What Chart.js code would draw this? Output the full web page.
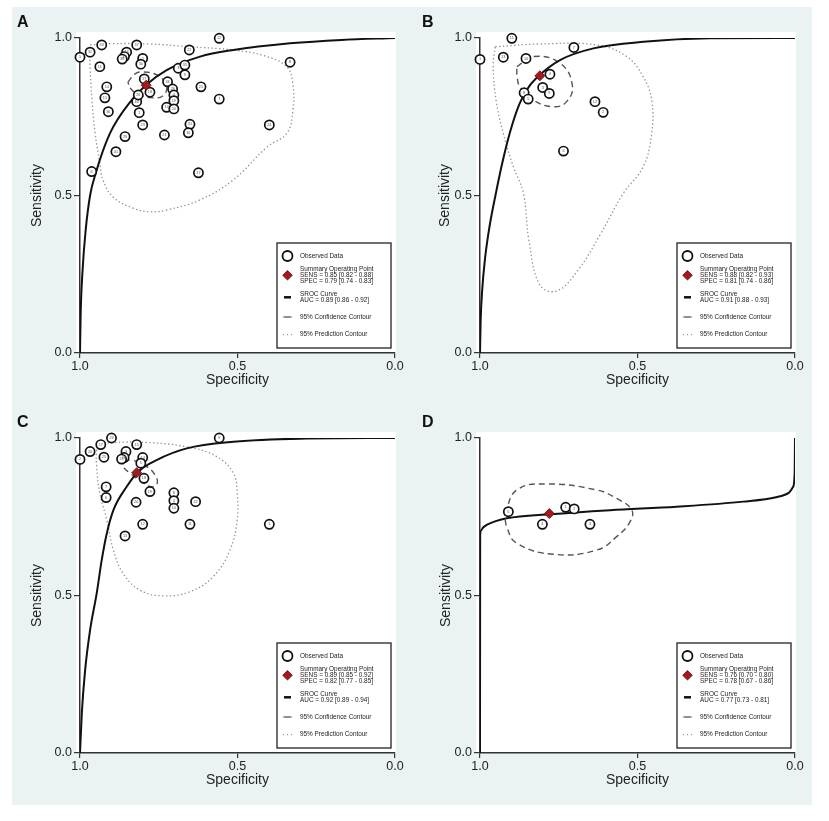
<!DOCTYPE html>
<html>
<head>
<meta charset="utf-8">
<title>SROC curves</title>
<script src="https://cdn.jsdelivr.net/npm/chart.js@4.4.1/dist/chart.umd.min.js"></script>
<style>
  body { margin: 0; background: #fff; }
  #figure { position: absolute; left: 12px; top: 7px; width: 800px; height: 798px; background: #eaf2f3; }
  #figure canvas { position: absolute; }
</style>
</head>
<body>
<div id="figure">
  <canvas id="panelA" width="398" height="398" style="left:0;top:0"></canvas>
  <canvas id="panelB" width="398" height="398" style="left:400px;top:0"></canvas>
  <canvas id="panelC" width="398" height="398" style="left:0;top:400px"></canvas>
  <canvas id="panelD" width="398" height="398" style="left:400px;top:400px"></canvas>
</div>
<script>
const FONT = "'Liberation Sans', Arial, Helvetica, sans-serif";

const tickValues = [0, 0.5, 1];
const tickLabels = ['0.0', '0.5', '1.0'];

// observed studies (specificity, sensitivity, study id)
const specA = [1.0, 0.968, 0.931, 0.937, 0.852, 0.859, 0.866, 0.82, 0.801, 0.807, 0.653, 0.558, 0.333, 0.688, 0.667, 0.667, 0.796, 0.778, 0.915, 0.921, 0.91, 0.82, 0.815, 0.812, 0.801, 0.857, 0.886, 0.963, 0.722, 0.706, 0.702, 0.702, 0.725, 0.702, 0.616, 0.558, 0.651, 0.656, 0.732, 0.399, 0.624];
const sensA = [0.939, 0.955, 0.978, 0.909, 0.955, 0.941, 0.933, 0.978, 0.935, 0.917, 0.962, 0.999, 0.923, 0.904, 0.914, 0.883, 0.87, 0.828, 0.845, 0.81, 0.766, 0.798, 0.819, 0.763, 0.724, 0.687, 0.639, 0.576, 0.861, 0.838, 0.819, 0.801, 0.78, 0.775, 0.845, 0.806, 0.726, 0.699, 0.692, 0.724, 0.572];
const idsA = ['5', '32', '33', '11', '13', '39', '38', '37', '2', '30', '22', '12', '8', '3', '35', '9', '27', '18', '14', '15', '36', '40', '26', '1', '23', '29', '41', '6', '34', '28', '4', '19', '10', '20', '25', '7', '31', '16', '21', '24', '17'];

const specB = [1.0, 0.926, 0.899, 0.854, 0.702, 0.778, 0.801, 0.78, 0.86, 0.847, 0.635, 0.609, 0.735];
const sensB = [0.932, 0.939, 0.999, 0.935, 0.970, 0.885, 0.843, 0.824, 0.826, 0.806, 0.798, 0.764, 0.641];
const idsB = ['1', '13', '11', '10', '7', '4', '3', '9', '8', '5', '12', '2', '6'];

const specC = [1.0, 0.968, 0.934, 0.9, 0.924, 0.854, 0.86, 0.868, 0.82, 0.801, 0.807, 0.558, 0.797, 0.778, 0.917, 0.917, 0.822, 0.702, 0.702, 0.702, 0.633, 0.801, 0.651, 0.399, 0.857];
const sensC = [0.932, 0.957, 0.979, 1.0, 0.939, 0.957, 0.938, 0.933, 0.979, 0.938, 0.92, 1.0, 0.872, 0.83, 0.845, 0.811, 0.796, 0.826, 0.801, 0.777, 0.798, 0.726, 0.726, 0.726, 0.689];
const idsC = ['2', '20', '17', '23', '25', '3', '16', '21', '15', '14', '5', '9', '18', '19', '7', '6', '24', '8', '4', '10', '22', '12', '11', '1', '13'];

const specD = [0.728, 0.701, 0.651, 0.802, 0.910];
const sensD = [0.78, 0.775, 0.726, 0.726, 0.766];
const idsD = ['1', '2', '3', '4', '5'];

// summary operating points A..D
const summarySpec = [0.79, 0.81, 0.82, 0.78];
const summarySens = [0.85, 0.88, 0.89, 0.76];

// SROC curves
const srocSpecA = [1.0, 0.998, 0.992, 0.982, 0.968, 0.95, 0.905, 0.836, 0.79, 0.725, 0.619, 0.513, 0.333, 0.17, 0.0];
const srocSensA = [0.0, 0.12, 0.26, 0.39, 0.5, 0.571, 0.697, 0.803, 0.851, 0.898, 0.941, 0.962, 0.983, 0.994, 1.0];
const srocSpecB = [1.0, 0.998, 0.993, 0.984, 0.97, 0.951, 0.93, 0.905, 0.875, 0.845, 0.81, 0.746, 0.64, 0.481, 0.27, 0.0];
const srocSensB = [0.0, 0.1, 0.2, 0.3, 0.4, 0.5, 0.6, 0.7, 0.79, 0.845, 0.883, 0.93, 0.967, 0.988, 0.999, 1.0];
const srocSpecC = [1.0, 0.994, 0.984, 0.968, 0.947, 0.931, 0.915, 0.894, 0.852, 0.813, 0.757, 0.661, 0.513, 0.3, 0.0];
const srocSensC = [0.0, 0.13, 0.26, 0.39, 0.507, 0.613, 0.697, 0.771, 0.845, 0.895, 0.93, 0.967, 0.988, 0.998, 1.0];
const srocSpecD = [1.0, 0.9995, 0.997, 0.99, 0.979, 0.95, 0.915, 0.778, 0.587, 0.376, 0.164, 0.06, 0.02, 0.006, 0.001, 0.0];
const srocSensD = [0.0, 0.69, 0.706, 0.716, 0.724, 0.736, 0.745, 0.758, 0.771, 0.782, 0.798, 0.812, 0.826, 0.845, 0.89, 1.0];

// 95% confidence contours
const confSpecA = [0.848, 0.825, 0.8, 0.756, 0.73, 0.724, 0.737, 0.768, 0.81, 0.838, 0.848];
const confSensA = [0.86, 0.886, 0.892, 0.883, 0.86, 0.841, 0.816, 0.81, 0.819, 0.838, 0.86];
const confSpecB = [0.883, 0.832, 0.746, 0.707, 0.725, 0.767, 0.831, 0.873, 0.882, 0.883];
const confSensB = [0.909, 0.941, 0.920, 0.851, 0.798, 0.782, 0.803, 0.845, 0.877, 0.909];
const confSpecC = [0.860, 0.836, 0.788, 0.762, 0.755, 0.772, 0.804, 0.841, 0.864, 0.860];
const confSensC = [0.925, 0.930, 0.909, 0.883, 0.856, 0.845, 0.861, 0.888, 0.911, 0.925];
const confSpecD = [0.921, 0.883, 0.788, 0.63, 0.566, 0.518, 0.524, 0.566, 0.63, 0.767, 0.883, 0.915, 0.921];
const confSensD = [0.761, 0.835, 0.854, 0.835, 0.808, 0.771, 0.734, 0.687, 0.644, 0.631, 0.666, 0.718, 0.761];

// 95% prediction contours (none visible in D)
const predSpecA = [0.968, 0.9, 0.778, 0.65, 0.514, 0.413, 0.343, 0.324, 0.324, 0.343, 0.406, 0.514, 0.619, 0.724, 0.778, 0.832, 0.895, 0.927, 0.937, 0.952, 0.962, 0.968, 0.968];
const predSensA = [0.978, 0.982, 0.981, 0.972, 0.962, 0.943, 0.908, 0.851, 0.771, 0.698, 0.654, 0.549, 0.486, 0.454, 0.448, 0.46, 0.495, 0.549, 0.603, 0.698, 0.803, 0.908, 0.962];
const predSpecB = [0.952, 0.81, 0.63, 0.534, 0.482, 0.455, 0.455, 0.482, 0.545, 0.619, 0.689, 0.756, 0.81, 0.845, 0.862, 0.894, 0.926, 0.949, 0.958, 0.952];
const predSensB = [0.972, 0.981, 0.978, 0.941, 0.877, 0.803, 0.697, 0.591, 0.507, 0.375, 0.263, 0.197, 0.216, 0.36, 0.507, 0.591, 0.697, 0.803, 0.909, 0.972];
const predSpecC = [0.937, 0.82, 0.661, 0.566, 0.513, 0.501, 0.501, 0.524, 0.577, 0.651, 0.736, 0.81, 0.863, 0.894, 0.915, 0.937, 0.947, 0.947, 0.937];
const predSensC = [0.983, 0.987, 0.972, 0.941, 0.888, 0.824, 0.74, 0.644, 0.56, 0.512, 0.499, 0.517, 0.57, 0.644, 0.74, 0.824, 0.909, 0.962, 0.983];

const legendA = ['SENS = 0.85 [0.82 - 0.88]', 'SPEC = 0.79 [0.74 - 0.83]', 'AUC = 0.89 [0.86 - 0.92]'];
const legendB = ['SENS = 0.88 [0.82 - 0.93]', 'SPEC = 0.81 [0.74 - 0.86]', 'AUC = 0.91 [0.88 - 0.93]'];
const legendC = ['SENS = 0.89 [0.85 - 0.92]', 'SPEC = 0.82 [0.77 - 0.85]', 'AUC = 0.92 [0.89 - 0.94]'];
const legendD = ['SENS = 0.76 [0.70 - 0.80]', 'SPEC = 0.78 [0.67 - 0.86]', 'AUC = 0.77 [0.73 - 0.81]'];

Chart.defaults.font.family = FONT;

function pairs(xs, ys) {
    return xs.map((x, i) => ({ x: x, y: ys[i] }));
}

function drawDiamond(ctx, x, y, r) {
    ctx.beginPath();
    ctx.moveTo(x, y - r);
    ctx.lineTo(x + r, y);
    ctx.lineTo(x, y + r);
    ctx.lineTo(x - r, y);
    ctx.closePath();
    ctx.fillStyle = '#a3191d';
    ctx.fill();
    ctx.strokeStyle = '#5e0b0e';
    ctx.lineWidth = 0.8;
    ctx.stroke();
}

function drawLegend(ctx, area, lines) {
    const x = area.left + 197, y = area.top + 205, w = 114, h = 105;
    const sx = x + 10.5, tx = x + 23;
    ctx.save();
    ctx.fillStyle = '#fff';
    ctx.fillRect(x, y, w, h);
    ctx.strokeStyle = '#222';
    ctx.lineWidth = 1.3;
    ctx.strokeRect(x, y, w, h);

    ctx.beginPath();
    ctx.arc(sx, y + 13, 5, 0, Math.PI * 2);
    ctx.fillStyle = '#fff';
    ctx.fill();
    ctx.lineWidth = 1.8;
    ctx.strokeStyle = '#111';
    ctx.stroke();

    drawDiamond(ctx, sx, y + 32.3, 4.8);

    ctx.beginPath();
    ctx.moveTo(sx - 3.5, y + 54.3);
    ctx.lineTo(sx + 3.5, y + 54.3);
    ctx.lineWidth = 2.5;
    ctx.strokeStyle = '#111';
    ctx.stroke();

    ctx.beginPath();
    ctx.moveTo(sx - 4, y + 74);
    ctx.lineTo(sx + 4, y + 74);
    ctx.lineWidth = 1.3;
    ctx.strokeStyle = '#555';
    ctx.stroke();

    ctx.fillStyle = '#999';
    [-4, 0, 4].forEach(d => ctx.fillRect(sx + d - 0.6, y + 91, 1.2, 1.2));

    ctx.fillStyle = '#222';
    ctx.font = '6.4px ' + FONT;
    ctx.textBaseline = 'middle';
    ctx.textAlign = 'left';
    ctx.fillText('Observed Data', tx, y + 13);
    ctx.fillText('Summary Operating Point', tx, y + 26.4);
    ctx.fillText(lines[0], tx, y + 32.3);
    ctx.fillText(lines[1], tx, y + 38.2);
    ctx.fillText('SROC Curve', tx, y + 51.3);
    ctx.fillText(lines[2], tx, y + 57.3);
    ctx.fillText('95% Confidence Contour', tx, y + 74);
    ctx.fillText('95% Prediction Contour', tx, y + 91.5);
    ctx.restore();
}

const panelDecor = {
    id: 'panelDecor',
    beforeDraw(chart) {
        const { ctx, chartArea: a } = chart;
        ctx.save();
        ctx.fillStyle = '#fff';
        ctx.fillRect(a.left - 4, a.top - 6, a.right - a.left + 5, a.bottom - a.top + 6);
        ctx.restore();
    },
    afterDatasetsDraw(chart) {
        const ctx = chart.ctx;
        ctx.save();
        ctx.font = '3.8px ' + FONT;
        ctx.fillStyle = '#555';
        ctx.textAlign = 'center';
        ctx.textBaseline = 'middle';
        chart.data.datasets.forEach((ds, i) => {
            if (!ds.studyIds) return;
            chart.getDatasetMeta(i).data.forEach((pt, j) => {
                ctx.fillText(ds.studyIds[j], pt.x, pt.y);
            });
        });
        ctx.restore();
    },
    afterDraw(chart, args, opts) {
        const ctx = chart.ctx;
        ctx.save();
        ctx.font = 'bold 16px ' + FONT;
        ctx.fillStyle = '#111';
        ctx.textBaseline = 'middle';
        ctx.fillText(opts.letter, opts.letterX, 16);
        ctx.restore();
        drawLegend(ctx, chart.chartArea, opts.legend);
    }
};

function axis(title, isX, titlePad) {
    return {
        type: 'linear',
        min: 0,
        max: 1,
        reverse: isX,
        border: { display: true, color: '#333', width: 1.5 },
        grid: { drawOnChartArea: false, drawTicks: true, tickLength: isX ? 5 : 6, color: '#333', lineWidth: 1.2 },
        afterBuildTicks: scale => { scale.ticks = tickValues.map(v => ({ value: v })); },
        ticks: {
            callback: v => tickLabels[tickValues.indexOf(v)],
            font: { size: 12.5 },
            color: '#222',
            padding: isX ? 1 : 2,
            maxRotation: 0,
            autoSkip: false
        },
        title: {
            display: true,
            text: title,
            color: '#222',
            font: { size: 14 },
            padding: isX ? { top: 0, bottom: 16.6 } : { top: titlePad, bottom: 0 }
        },
        afterFit: scale => {
            if (isX) scale.height = 52; else scale.width = 68;
        }
    };
}

function makePanel(canvasId, p) {
    const datasets = [
        {
            data: [{ x: p.summary[0], y: p.summary[1] }],
            pointStyle: 'rectRot', pointRadius: 5, pointHoverRadius: 5,
            backgroundColor: '#a3191d', borderColor: '#5e0b0e', borderWidth: 0.8,
            clip: false, order: 0
        },
        {
            data: pairs(p.spec, p.sens),
            studyIds: p.ids,
            pointRadius: 4.6, pointHoverRadius: 4.6, pointBorderWidth: 1.7,
            borderColor: '#111', backgroundColor: '#fff',
            clip: false, order: 1
        },
        {
            data: pairs(p.sroc[0], p.sroc[1]), showLine: true,
            pointRadius: 0, pointHoverRadius: 0, borderColor: '#111', borderWidth: 2,
            cubicInterpolationMode: 'monotone', order: 2
        },
        {
            data: pairs(p.conf[0], p.conf[1]), showLine: true,
            pointRadius: 0, pointHoverRadius: 0, borderColor: '#555', borderWidth: 1.4,
            borderDash: [6, 4], tension: 0.45, order: 3
        }
    ];
    if (p.pred) {
        datasets.push({
            data: pairs(p.pred[0], p.pred[1]), showLine: true,
            pointRadius: 0, pointHoverRadius: 0, borderColor: '#939393', borderWidth: 1.3,
            borderDash: [1.4, 2.4], tension: 0.4, order: 4
        });
    }
    new Chart(document.getElementById(canvasId), {
        type: 'scatter',
        data: { datasets: datasets },
        options: {
            responsive: false,
            animation: false,
            events: [],
            layout: { padding: { left: 0, top: 31, right: 15, bottom: 0 } },
            scales: {
                x: axis('Specificity', true),
                y: axis('Sensitivity', false, p.titlePad)
            },
            plugins: {
                legend: { display: false },
                tooltip: { enabled: false },
                panelDecor: { letter: p.letter, letterX: p.letterX, legend: p.legend }
            }
        },
        plugins: [panelDecor]
    });
}

makePanel('panelA', {
    letter: 'A', letterX: 5, titlePad: 16.5,
    spec: specA, sens: sensA, ids: idsA,
    summary: [summarySpec[0], summarySens[0]],
    sroc: [srocSpecA, srocSensA], conf: [confSpecA, confSensA], pred: [predSpecA, predSensA],
    legend: legendA
});
makePanel('panelB', {
    letter: 'B', letterX: 10, titlePad: 25,
    spec: specB, sens: sensB, ids: idsB,
    summary: [summarySpec[1], summarySens[1]],
    sroc: [srocSpecB, srocSensB], conf: [confSpecB, confSensB], pred: [predSpecB, predSensB],
    legend: legendB
});
makePanel('panelC', {
    letter: 'C', letterX: 5, titlePad: 17,
    spec: specC, sens: sensC, ids: idsC,
    summary: [summarySpec[2], summarySens[2]],
    sroc: [srocSpecC, srocSensC], conf: [confSpecC, confSensC], pred: [predSpecC, predSensC],
    legend: legendC
});
makePanel('panelD', {
    letter: 'D', letterX: 10, titlePad: 26,
    spec: specD, sens: sensD, ids: idsD,
    summary: [summarySpec[3], summarySens[3]],
    sroc: [srocSpecD, srocSensD], conf: [confSpecD, confSensD],
    legend: legendD
});
</script>
</body>
</html>
